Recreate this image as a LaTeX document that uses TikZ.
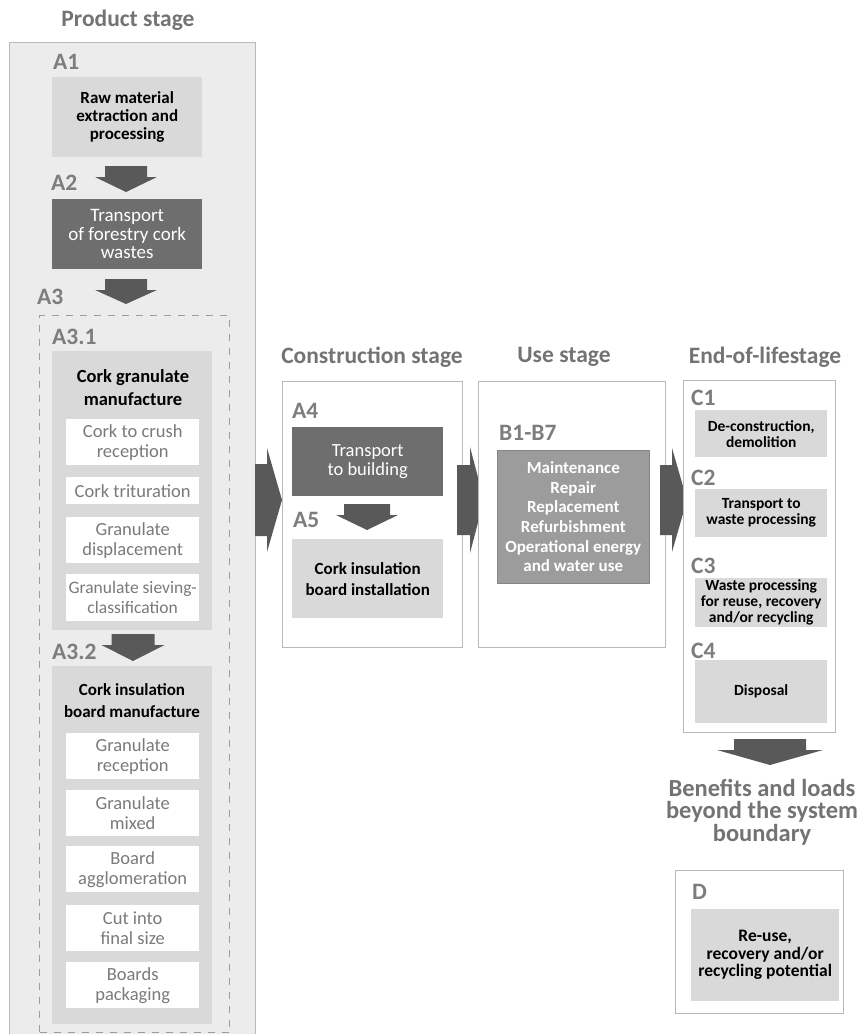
\documentclass[tikz,border=0pt]{standalone}
\usepackage{fontspec}
\setmainfont{Carlito}
\definecolor{framegray}{HTML}{B9B9B9}
\definecolor{prodfill}{HTML}{ECECEC}
\definecolor{boxlight}{HTML}{D9D9D9}
\definecolor{boxdark}{HTML}{6E6E6E}
\definecolor{boxmid}{HTML}{9C9C9C}
\definecolor{arrowgray}{HTML}{595959}
\definecolor{headgray}{HTML}{737373}
\definecolor{taggray}{HTML}{7D7D7D}
\definecolor{steptext}{HTML}{7A7A7A}

% block arrows: centre x, top, shoulder, tip, shaft half width, head half width
\newcommand{\blockdn}[6]{\fill[arrowgray] (#1-#5,#2) -- (#1+#5,#2) -- (#1+#5,#3) -- (#1+#6,#3) -- (#1,#4) -- (#1-#6,#3) -- (#1-#5,#3) -- cycle;}
% left, shoulder, tip, centre y, shaft half width, head half width
\newcommand{\blockrt}[6]{\fill[arrowgray] (#1,#4-#5) -- (#2,#4-#5) -- (#2,#4-#6) -- (#3,#4) -- (#2,#4+#6) -- (#2,#4+#5) -- (#1,#4+#5) -- cycle;}

\begin{document}
\begin{tikzpicture}[
  x=1pt, y=-1pt,
  wh/.style 2 args={minimum width=#1pt, minimum height=#2pt},
  stagebox/.style={draw=framegray, line width=1.4pt, fill=white, anchor=north west, inner sep=0pt},
  lightbox/.style={fill=boxlight, anchor=north west, align=center, inner sep=0pt, font=\fontsize{17}{18}\selectfont\bfseries},
  darkbox/.style={fill=boxdark, text=white, anchor=north west, align=center, inner sep=0pt, font=\fontsize{18.5}{19.5}\selectfont},
  stepbox/.style={fill=white, text=steptext, anchor=north west, align=center, inner sep=0pt, minimum width=133pt, minimum height=46pt, font=\fontsize{18.5}{20}\selectfont},
  eolbox/.style={lightbox, wh={132}{47}, font=\fontsize{15.5}{16}\selectfont\bfseries},
  tag/.style={anchor=west, inner sep=0pt, text=taggray, font=\fontsize{23.5}{24}\selectfont\bfseries},
  stagehead/.style={text=headgray, align=center, inner sep=0pt, font=\fontsize{23.5}{24}\selectfont\bfseries}]

\useasboundingbox (0,0) rectangle (858,1034);

% ---------- product stage (A1-A3)
\node[stagehead] (hprod) at (128,20) {Product stage};
\node[stagebox, fill=prodfill, wh={246}{1010}] (prod) at (9,42) {};

\node[tag] (tA1) at (53,62) {A1};
\node[lightbox, wh={150}{80}] (a1) at (52,77) {Raw material\\extraction and\\processing};
\blockdn{126}{166}{177}{192}{21}{31}
\node[tag] (tA2) at (51,183) {A2};
\node[darkbox, wh={150}{70}, font=\fontsize{19}{18.5}\selectfont] (a2) at (52,199) {Transport\\of forestry cork\\wastes};
\blockdn{126}{279}{290}{304}{21}{31}
\node[tag] (tA3) at (37,297) {A3};

\node[stagebox, fill=none, draw=framegray!85!black, line width=1.2pt, dash pattern=on 7pt off 7pt, wh={190}{717}] (a3) at (39,315) {};

% A3.1
\node[tag] (tA31) at (52,337) {A3.1};
\node[lightbox, wh={160}{279}] (a31) at (52,351) {};
\node[align=center, inner sep=0pt, font=\fontsize{18.5}{23}\selectfont\bfseries] (a31t) at (133,388) {Cork granulate\\manufacture};
\node[stepbox] (s1) at (66,419) {Cork to crush\\reception};
\node[stepbox, minimum height=27pt] (s2) at (66,477) {Cork trituration};
\node[stepbox] (s3) at (66,517) {Granulate\\displacement};
\node[stepbox, minimum height=47pt, font=\fontsize{17.5}{20}\selectfont] (s4) at (66,574) {Granulate sieving-\\classification};

% A3.2
\blockdn{133}{634}{645}{661}{21.5}{31.5}
\node[tag] (tA32) at (52,652) {A3.2};
\node[lightbox, wh={160}{358}] (a32) at (52,666) {};
\node[align=center, inner sep=0pt, font=\fontsize{17}{22}\selectfont\bfseries] (a32t) at (132,701) {Cork insulation\\board manufacture};
\node[stepbox] (m1) at (66,733) {Granulate\\reception};
\node[stepbox] (m2) at (66,790) {Granulate\\mixed};
\node[stepbox] (m3) at (66,846) {Board\\agglomeration};
\node[stepbox] (m4) at (66,905) {Cut into\\final size};
\node[stepbox] (m5) at (66,962) {Boards\\packaging};

% ---------- construction stage (A4-A5)
\blockrt{255}{267}{282}{500}{36}{52}
\node[stagehead] (hcons) at (372,357) {Construction stage};
\node[stagebox, wh={180}{266}] (cons) at (282,381) {};
\node[tag] (tA4) at (292,411) {A4};
\node[darkbox, wh={151}{69}] (a4) at (292,427) {Transport\\to building};
\blockdn{367}{504}{515}{530}{23}{31}
\node[tag] (tA5) at (293,520) {A5};
\node[lightbox, wh={151}{79}, font=\fontsize{17}{21}\selectfont\bfseries] (a5) at (292,539) {Cork insulation\\board installation};

% ---------- use stage (B1-B7)
\blockrt{457}{470}{484}{500}{35}{53}
\node[stagehead] (huse) at (564,357) {Use stage};
\node[stagebox, wh={187}{266}] (use) at (478,381) {};
\node[tag] (tB) at (499,433) {B1-B7};
\node[lightbox, fill=boxmid, draw=boxmid!85!black, line width=0.6pt, text=white, wh={152}{133}, font=\fontsize{17}{19.7}\selectfont\bfseries] (b) at (497,450) {Maintenance\\Repair\\Replacement\\Refurbishment\\Operational energy\\and water use};

% ---------- end-of-life stage (C1-C4)
\blockrt{660}{672}{687}{500}{35}{52}
\node[stagehead] (heol) at (765,357) {End-of-lifestage};
\node[stagebox, wh={152}{352}] (eol) at (683,380) {};
\node[tag] (tC1) at (691,398) {C1};
\node[eolbox] (c1) at (695,410) {De-construction,\\demolition};
\node[tag] (tC2) at (691,478) {C2};
\node[eolbox, minimum height=48pt] (c2) at (695,489) {Transport to\\waste processing};
\node[tag] (tC3) at (691,566) {C3};
\node[eolbox, minimum height=49pt] (c3) at (695,578) {Waste processing\\for reuse, recovery\\and/or recycling};
\node[tag] (tC4) at (691,651) {C4};
\node[eolbox, minimum height=63pt] (c4) at (695,660) {Disposal};

% ---------- beyond the system boundary (D)
\blockdn{770}{739}{750}{765}{36}{53}
\node[stagehead, font=\fontsize{24.5}{22.5}\selectfont\bfseries] (hben) at (762,812) {Benefits and loads\\beyond the system\\boundary};
\node[stagebox, wh={168}{143}] (dbox) at (675,870) {};
\node[tag] (tD) at (692,892) {D};
\node[lightbox, wh={148}{92}, font=\fontsize{17.5}{17.5}\selectfont\bfseries] (d) at (691,909) {Re-use,\\recovery and/or\\recycling potential};
\end{tikzpicture}
\end{document}
